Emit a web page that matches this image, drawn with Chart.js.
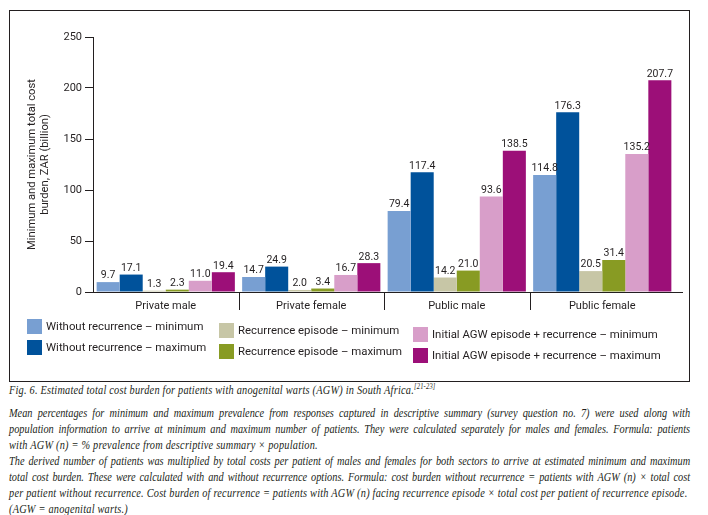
<!DOCTYPE html>
<html>
<head>
<meta charset="utf-8">
<script src="https://cdn.jsdelivr.net/npm/chart.js@4.4.1/dist/chart.umd.min.js"></script>
<style>
    body { margin: 0; background: #fff; width: 708px; height: 515px; position: relative; overflow: hidden; }
    #box { position: absolute; left: 9px; top: 10px; width: 679px; height: 370px; border: 1px solid #231f20; }
    #chart { position: absolute; left: 0; top: 0; }
    .legend-item { position: absolute; font-family: Roboto, sans-serif; font-size: 11.4px; color: #231f20; white-space: nowrap; }
    .legend-swatch { position: absolute; width: 15px; height: 15px; }
    .caption { position: absolute; left: 9px; width: 792px; transform: scaleX(0.86); transform-origin: 0 0;
               font-family: 'Liberation Serif', serif; font-style: italic; font-size: 12px; line-height: 16px; color: #231f20; }
    .caption div { text-align: left; height: 16px; letter-spacing: 0.25px; }
    .caption div.j { text-align: justify; text-align-last: justify; letter-spacing: 0; }
    .caption sup { font-size: 7.5px; vertical-align: 5px; line-height: 0; }
</style>
</head>
<body>
<div id="box"></div>
<canvas id="chart" width="708" height="335"></canvas>
<div id="legend"></div>
<div class="caption" style="top: 382px;">
    <div>Fig. 6. Estimated total cost burden for patients with anogenital warts (AGW) in South Africa.<sup>[21-23]</sup></div>
</div>
<div class="caption" style="top: 405px;">
    <div class="j">Mean percentages for minimum and maximum prevalence from responses captured in descriptive summary (survey question no. 7) were used along with</div>
    <div class="j">population information to arrive at minimum and maximum number of patients. They were calculated separately for males and females. Formula: patients</div>
    <div>with AGW (n) = % prevalence from descriptive summary × population.</div>
    <div class="j">The derived number of patients was multiplied by total costs per patient of males and females for both sectors to arrive at estimated minimum and maximum</div>
    <div class="j">total cost burden. These were calculated with and without recurrence options. Formula: cost burden without recurrence = patients with AGW (n) × total cost</div>
    <div>per patient without recurrence. Cost burden of recurrence = patients with AGW (n) facing recurrence episode × total cost per patient of recurrence episode.</div>
    <div>(AGW = anogenital warts.)</div>
</div>
<script>
// Chart data
const categories = ['Private male', 'Private female', 'Public male', 'Public female'];
const seriesNames = [
    'Without recurrence – minimum',
    'Without recurrence – maximum',
    'Recurrence episode – minimum',
    'Recurrence episode – maximum',
    'Initial AGW episode + recurrence – minimum',
    'Initial AGW episode + recurrence – maximum'
];
const withoutMin = [9.7, 14.7, 79.4, 114.8];
const withoutMax = [17.1, 24.9, 117.4, 176.3];
const recurrenceMin = [1.3, 2.0, 14.2, 20.5];
const recurrenceMax = [2.3, 3.4, 21.0, 31.4];
const initialMin = [11.0, 16.7, 93.6, 135.2];
const initialMax = [19.4, 28.3, 138.5, 207.7];
const yTicks = [0, 50, 100, 150, 200, 250];

// Colours
const seriesColors = ['#789fd2', '#00529b', '#c7c6a6', '#889b23', '#d89ec9', '#9c0f78'];
const inkColor = '#231f20';

const seriesValues = [withoutMin, withoutMax, recurrenceMin, recurrenceMax, initialMin, initialMax];

Chart.defaults.font.family = 'Roboto';
Chart.defaults.color = inkColor;

// Category separators below the axis
const separatorPlugin = {
    id: 'separators',
    afterDraw(chart) {
        const xScale = chart.scales.x;
        const area = chart.chartArea;
        const ctx = chart.ctx;
        ctx.save();
        ctx.strokeStyle = inkColor;
        ctx.lineWidth = 1;
        ctx.beginPath();
        for (let i = 1; i < categories.length; i++) {
            const x = Math.round((xScale.getPixelForValue(i - 1) + xScale.getPixelForValue(i)) / 2) + 0.5;
            ctx.moveTo(x, area.bottom);
            ctx.lineTo(x, area.bottom + 18);
        }
        // baseline runs a little past the last group
        ctx.moveTo(area.right, area.bottom + 0.5);
        ctx.lineTo(area.right + 8, area.bottom + 0.5);
        ctx.stroke();
        ctx.restore();
    }
};

// Value labels above the bars
const valueLabelPlugin = {
    id: 'valueLabels',
    afterDatasetsDraw(chart) {
        const ctx = chart.ctx;
        ctx.save();
        ctx.font = '10.5px Roboto';
        ctx.fillStyle = inkColor;
        ctx.textAlign = 'center';
        ctx.textBaseline = 'bottom';
        chart.data.datasets.forEach((dataset, di) => {
            const meta = chart.getDatasetMeta(di);
            meta.data.forEach((bar, i) => {
                ctx.fillText(dataset.data[i].toFixed(1), bar.x, bar.y - 1);
            });
        });
        ctx.restore();
    }
};

new Chart(document.getElementById('chart'), {
    type: 'bar',
    data: {
        labels: categories,
        datasets: seriesValues.map((values, i) => ({
            label: seriesNames[i],
            data: values,
            backgroundColor: seriesColors[i],
            borderWidth: 0,
            categoryPercentage: 0.95,
            barPercentage: 1.0
        }))
    },
    options: {
        responsive: false,
        animation: false,
        layout: {
            padding: { top: 37, right: 33, left: 0, bottom: 0 }
        },
        plugins: {
            legend: { display: false },
            tooltip: { enabled: false }
        },
        scales: {
            x: {
                grid: { display: false, drawTicks: false },
                border: { display: true, color: inkColor, width: 1 },
                ticks: { font: { size: 11 }, color: inkColor, padding: 8 },
                afterFit(scale) { scale.height = 43; }
            },
            y: {
                min: 0,
                max: 250,
                afterBuildTicks(scale) { scale.ticks = yTicks.map(v => ({ value: v })); },
                grid: { drawOnChartArea: false, drawTicks: true, tickLength: 8, color: inkColor },
                border: { display: true, color: inkColor, width: 1 },
                ticks: { font: { size: 11 }, color: inkColor, padding: 3 },
                title: {
                    display: true,
                    text: ['Minimum and maximum total cost', 'burden, ZAR (billion)'],
                    font: { size: 11.2 },
                    color: inkColor,
                    padding: { top: 25, bottom: 0 }
                },
                afterFit(scale) { scale.width = 93; }
            }
        }
    },
    plugins: [separatorPlugin, valueLabelPlugin]
});

// HTML legend: three columns of two entries
const legendEl = document.getElementById('legend');
const columnLeft = [27, 219, 413];
seriesNames.forEach((name, i) => {
    const col = Math.floor(i / 2);
    const row = i % 2;
    const top = 319 + col * 4 + row * 21;
    const sw = document.createElement('div');
    sw.className = 'legend-swatch';
    sw.style.left = columnLeft[col] + 'px';
    sw.style.top = top + 'px';
    sw.style.background = seriesColors[i];
    legendEl.appendChild(sw);
    const txt = document.createElement('div');
    txt.className = 'legend-item';
    txt.style.left = (columnLeft[col] + 19) + 'px';
    txt.style.top = top + 'px';
    txt.style.lineHeight = '15px';
    txt.textContent = name;
    legendEl.appendChild(txt);
});
</script>
</body>
</html>
